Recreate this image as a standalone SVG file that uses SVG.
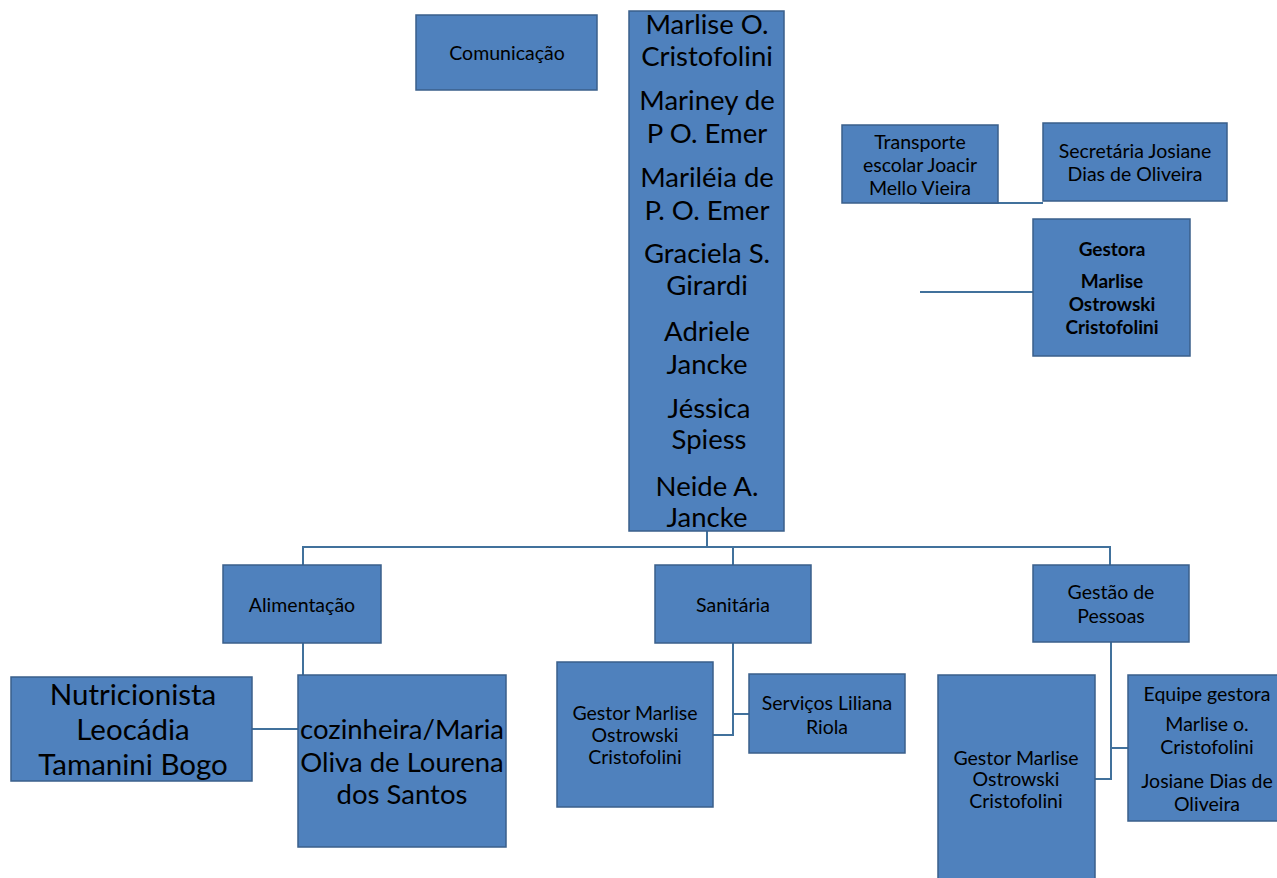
<svg xmlns="http://www.w3.org/2000/svg" width="1277" height="878" viewBox="0 0 1277 878">
<style>
.b{fill:#4F81BD;stroke:#3A5F8B;stroke-width:1.5}
.c{fill:none;stroke:#41719C;stroke-width:2}
text{font-family:Lato,"Open Sans","Liberation Sans",sans-serif;fill:#000;text-anchor:middle}
.s{font-size:19.5px}
.l{font-size:27.5px}
.n{font-size:29.5px}
.bd{font-weight:bold;font-size:19px}
</style>
<rect width="1277" height="878" fill="#fff"/>
<g id="connectors">
<polyline class="c" points="920,203 1043,203"/>
<polyline class="c" points="920,292 1037,292"/>
<polyline class="c" points="707,531 707,547"/>
<polyline class="c" points="303,565 303,547 1110,547 1110,565"/>
<polyline class="c" points="733,547 733,565"/>
<polyline class="c" points="303,643 303,675"/>
<polyline class="c" points="252,729 298,729"/>
<polyline class="c" points="733,643 733,735 713,735"/>
<polyline class="c" points="733,714 749,714"/>
<polyline class="c" points="1111,642 1111,779 1095,779"/>
<polyline class="c" points="1111,748 1128,748"/>
</g>
<g id="comunicacao"><rect class="b" x="416" y="15" width="181" height="75"/><text class="s" x="507" y="60">Comunicação</text></g>
<g id="central"><rect class="b" x="629" y="11" width="155" height="520"/>
<text class="l" x="707" y="34">Marlise O.</text>
<text class="l" x="707" y="66">Cristofolini</text>
<text class="l" x="707" y="110">Mariney de</text>
<text class="l" x="707" y="143">P O. Emer</text>
<text class="l" x="707" y="187">Mariléia de</text>
<text class="l" x="707" y="220">P. O. Emer</text>
<text class="l" x="707" y="263">Graciela S.</text>
<text class="l" x="707" y="295">Girardi</text>
<text class="l" x="707" y="341">Adriele</text>
<text class="l" x="707" y="374">Jancke</text>
<text class="l" x="709" y="418">Jéssica</text>
<text class="l" x="709" y="449">Spiess</text>
<text class="l" x="707" y="496">Neide A.</text>
<text class="l" x="707" y="527">Jancke</text>
</g>
<g id="transporte"><rect class="b" x="842" y="125" width="156" height="78"/>
<text class="s" x="920" y="149">Transporte</text>
<text class="s" x="920" y="172">escolar Joacir</text>
<text class="s" x="920" y="195">Mello Vieira</text></g>
<g id="secretaria"><rect class="b" x="1043" y="123" width="184" height="78"/>
<text class="s" x="1135" y="158">Secretária Josiane</text>
<text class="s" x="1135" y="181">Dias de Oliveira</text></g>
<g id="gestora"><rect class="b" x="1033" y="219" width="157" height="137"/>
<text class="bd" x="1112" y="256">Gestora</text>
<text class="bd" x="1112" y="288">Marlise</text>
<text class="bd" x="1112" y="311">Ostrowski</text>
<text class="bd" x="1112" y="334">Cristofolini</text></g>
<g id="alimentacao"><rect class="b" x="223" y="565" width="158" height="78"/>
<text class="s" x="302" y="612">Alimentação</text></g>
<g id="sanitaria"><rect class="b" x="655" y="565" width="156" height="78"/>
<text class="s" x="733" y="612">Sanitária</text></g>
<g id="gestao-pessoas"><rect class="b" x="1033" y="565" width="156" height="77"/>
<text class="s" x="1111" y="599">Gestão de</text>
<text class="s" x="1111" y="623">Pessoas</text></g>
<g id="nutricionista"><rect class="b" x="11" y="677" width="241" height="104"/>
<text class="n" x="133" y="705">Nutricionista</text>
<text class="n" x="133" y="740">Leocádia</text>
<text class="n" x="133" y="775">Tamanini Bogo</text></g>
<g id="cozinheira"><rect class="b" x="298" y="675" width="208" height="172"/>
<text class="l" x="402" y="739">cozinheira/Maria</text>
<text class="l" x="402" y="772">Oliva de Lourena</text>
<text class="l" x="402" y="804">dos Santos</text></g>
<g id="gestor-sanitaria"><rect class="b" x="557" y="662" width="156" height="145"/>
<text class="s" x="635" y="720">Gestor Marlise</text>
<text class="s" x="635" y="742">Ostrowski</text>
<text class="s" x="635" y="764">Cristofolini</text></g>
<g id="servicos"><rect class="b" x="749" y="674" width="156" height="79"/>
<text class="s" x="827" y="710">Serviços Liliana</text>
<text class="s" x="827" y="734">Riola</text></g>
<g id="gestor-pessoas"><rect class="b" x="938" y="675" width="157" height="210"/>
<text class="s" x="1016" y="765">Gestor Marlise</text>
<text class="s" x="1016" y="786">Ostrowski</text>
<text class="s" x="1016" y="808">Cristofolini</text></g>
<g id="equipe"><rect class="b" x="1128" y="675" width="160" height="146"/>
<text class="s" x="1207" y="701">Equipe gestora</text>
<text class="s" x="1207" y="731">Marlise o.</text>
<text class="s" x="1207" y="754">Cristofolini</text>
<text class="s" x="1207" y="788">Josiane Dias de</text>
<text class="s" x="1207" y="811">Oliveira</text></g>
</svg>
